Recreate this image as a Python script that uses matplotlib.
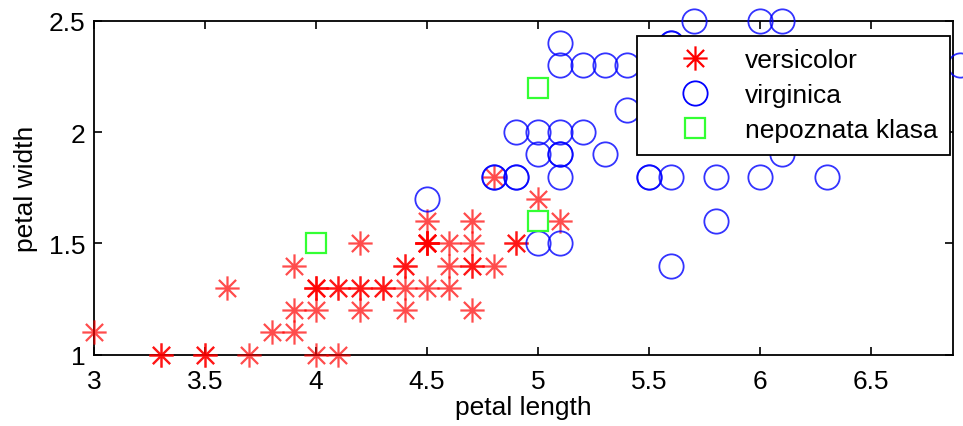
import numpy as np
import matplotlib
matplotlib.use("Agg")
import matplotlib.pyplot as plt
from matplotlib.path import Path

plt.rcParams['font.family'] = ['Liberation Sans', 'DejaVu Sans']

versicolor_len = [4.7,4.5,4.9,4.0,4.6,4.5,4.7,3.3,4.6,3.9,3.5,4.2,4.0,4.7,3.6,4.4,4.5,4.1,4.5,3.9,
                  4.8,4.0,4.9,4.7,4.3,4.4,4.8,5.0,4.5,3.5,3.8,3.7,3.9,5.1,4.5,4.5,4.7,4.4,4.1,4.0,
                  4.4,4.6,4.0,3.3,4.2,4.2,4.2,4.3,3.0,4.1]
versicolor_wid = [1.4,1.5,1.5,1.3,1.5,1.3,1.6,1.0,1.3,1.4,1.0,1.5,1.0,1.4,1.3,1.4,1.5,1.0,1.5,1.1,
                  1.8,1.3,1.5,1.2,1.3,1.4,1.4,1.7,1.5,1.0,1.1,1.0,1.2,1.6,1.5,1.6,1.5,1.3,1.3,1.3,
                  1.2,1.4,1.2,1.0,1.3,1.2,1.3,1.3,1.1,1.3]
virginica_len = [6.0,5.1,5.9,5.6,5.8,6.6,4.5,6.3,5.8,6.1,5.1,5.3,5.5,5.0,5.1,5.3,5.5,6.7,6.9,5.0,
                 5.7,4.9,6.7,4.9,5.7,6.0,4.8,4.9,5.6,5.8,6.1,6.4,5.6,5.1,5.6,6.1,5.6,5.5,4.8,5.4,
                 5.6,5.1,5.1,5.9,5.7,5.2,5.0,5.2,5.4,5.1]
virginica_wid = [2.5,1.9,2.1,1.8,2.2,2.1,1.7,1.8,1.8,2.5,2.0,1.9,2.1,2.0,2.4,2.3,1.8,2.2,2.3,1.5,
                 2.3,2.0,2.0,1.8,2.1,1.8,1.8,1.8,2.1,1.6,1.9,2.0,2.2,1.5,1.4,2.3,2.4,1.8,1.8,2.1,
                 2.4,2.3,1.9,2.3,2.5,2.3,1.9,2.0,2.3,1.8]
unknown_len = [4.0, 5.0, 5.0]
unknown_wid = [1.5, 2.2, 1.6]

labels = ['versicolor', 'virginica', 'nepoznata klasa']
x_ticks = [3, 3.5, 4, 4.5, 5, 5.5, 6, 6.5]
y_ticks = [1, 1.5, 2, 2.5]

d = np.sqrt(0.5)
asterisk = Path([(-1, 0), (1, 0), (0, -1), (0, 1), (-d, -d), (d, d), (-d, d), (d, -d)],
                [Path.MOVETO, Path.LINETO] * 4)

FS = 19
fig = plt.figure(figsize=(9.63, 4.27), dpi=100)
ax = fig.add_axes([0.0976, 0.1670, 0.8925, 0.7815])

h1, = ax.plot(versicolor_len, versicolor_wid, linestyle='none', marker=asterisk,
              markersize=17.5, markeredgecolor='#ff0000', markerfacecolor='none',
              markeredgewidth=1.6, alpha=0.7, clip_on=False)
h2, = ax.plot(virginica_len, virginica_wid, linestyle='none', marker='o',
              markersize=17.5, markeredgecolor='#0000ff', markerfacecolor='none',
              markeredgewidth=1.3, alpha=0.8, clip_on=False)
h3, = ax.plot(unknown_len, unknown_wid, linestyle='none', marker='s',
              markersize=14.5, markeredgecolor='#33ff33', markerfacecolor='none',
              markeredgewidth=1.6, clip_on=False)

ax.set_xlim(3, 6.87)
ax.set_ylim(1, 2.5)
ax.set_xticks(x_ticks)
ax.set_xticklabels([f'{t:g}' for t in x_ticks])
ax.set_yticks(y_ticks)
ax.set_yticklabels([f'{t:g}' for t in y_ticks])
ax.tick_params(direction='in', top=True, right=True, length=6, width=1.2,
               labelsize=FS, pad=6)
ax.tick_params(axis='x', pad=10)
for s in ax.spines.values():
    s.set_linewidth(1.3)
    s.set_zorder(0.5)
ax.set_xlabel('petal length', fontsize=FS, labelpad=2)
ax.set_ylabel('petal width', fontsize=FS, labelpad=8)

leg = ax.legend([h1, h2, h3], labels, loc='upper right', bbox_to_anchor=(0.9965, 0.956),
                fontsize=FS, fancybox=False, framealpha=1, edgecolor='black',
                handlelength=3.4, handletextpad=0.2, borderpad=0.48, labelspacing=0.41,
                borderaxespad=0)
leg.get_frame().set_linewidth(1.3)
leg.set_zorder(10)
for lh in leg.legend_handles:
    lh.set_alpha(1)

fig.savefig('out.png', dpi=100)
